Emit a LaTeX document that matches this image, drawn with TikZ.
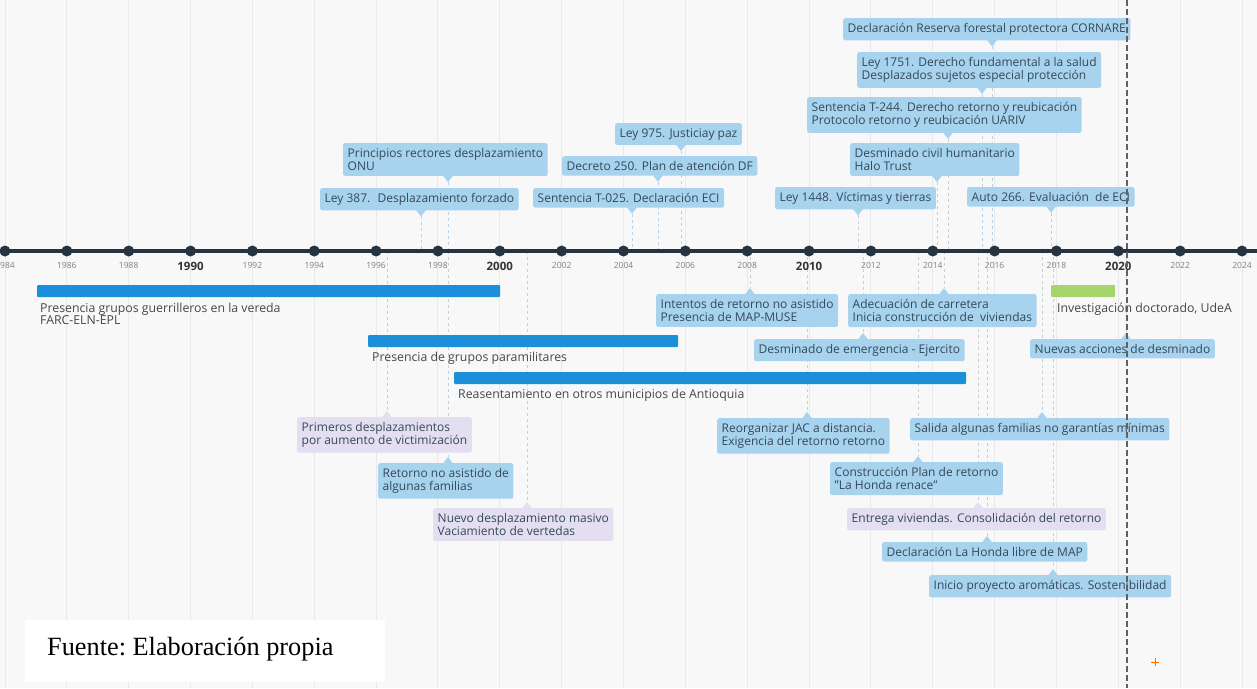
\documentclass[tikz,border=0pt]{standalone}
\usepackage{fontspec}
\setmainfont{Open Sans}
\newfontfamily\fuentefont{Liberation Serif}
\usetikzlibrary{calc}

\definecolor{paper}{HTML}{F8F8F8}
\definecolor{gridgray}{HTML}{E9E9E9}
\definecolor{axisnavy}{HTML}{263442}
\definecolor{evblue}{HTML}{A8D3EE}
\definecolor{evlilac}{HTML}{E4DEF1}
\definecolor{evtext}{HTML}{34495A}
\definecolor{barblue}{HTML}{1C8FDA}
\definecolor{bargreen}{HTML}{A6D56E}
\definecolor{stemblue}{HTML}{BCD1E3}

\pgfdeclarelayer{paperlayer}
\pgfdeclarelayer{stemlayer}
\pgfsetlayers{paperlayer,stemlayer,main}

\begin{document}
\begin{tikzpicture}[x=1pt, y=-1pt,
    ev/.style={rounded corners=2pt, inner xsep=4.5pt, inner ysep=5pt, align=left,
      anchor=north west, text=evtext, font=\fontsize{12}{13.5}\selectfont},
    stem/.style={stemblue, line width=0.8pt, dash pattern=on 3pt off 3pt},
    period/.style={barblue, rounded corners=1pt},
    periodtext/.style={anchor=north west, align=left, inner sep=0pt, text=black!72,
      font=\fontsize{12.3}{12}\selectfont},
    yearlbl/.style={text=black!50, font=\fontsize{8.5}{10}\selectfont},
    decadelbl/.style={text=black!80, font=\fontsize{11.5}{13}\selectfont\bfseries}]
  \useasboundingbox (0,0) rectangle (1257,688);
  \begin{pgfonlayer}{paperlayer}
    \fill[paper] (0,0) rectangle (1257,688);
    \foreach \yr in {1984,1986,...,2024}
      \draw[gridgray, line width=1pt] ({5+(\yr-1984)*30.925},0) -- ({5+(\yr-1984)*30.925},688);
  \end{pgfonlayer}

  \draw[axisnavy, line width=4pt] (-10,251) -- (1267,251);
  \foreach \yr in {1984,1986,...,2024}{
    \fill[axisnavy] ({5+(\yr-1984)*30.925},251) circle (5.5);
  }
  \foreach \yr in {1984,1986,1988,1992,1994,1996,1998,2002,2004,2006,2008,2012,2014,2016,2018,2022,2024}
    \node[yearlbl] (y\yr) at ({5+(\yr-1984)*30.925},265) {\yr};
  \foreach \yr in {1990,2000,2010,2020}
    \node[decadelbl] (y\yr) at ({5+(\yr-1984)*30.925},266) {\yr};

  % eventos sobre la linea
  \foreach \n/\lx/\ty/\px/\col/\txt in {
      cornare/843/18/992/evblue/{Declaración Reserva forestal protectora CORNARE},
      ley1751/857/52/982/evblue/{Ley 1751. Derecho fundamental a la salud\\Desplazados sujetos especial protección},
      t244/807/97/948/evblue/{Sentencia T-244. Derecho retorno y reubicación\\Protocolo retorno y reubicación UARIV},
      halo/850/143/937/evblue/{Desminado civil humanitario\\Halo Trust},
      ley1448/775/187/858/evblue/{Ley 1448. Víctimas y tierras},
      auto266/967/187/1051/evblue/{Auto 266. Evaluación~ de ECI},
      ley387/320/188/421/evblue/{Ley 387.~ Desplazamiento forzado},
      onu/343/143/448/evblue/{Principios rectores desplazamiento\\ONU},
      t025/533/188/632/evblue/{Sentencia T-025. Declaración ECI},
      decreto250/562/156/658/evblue/{Decreto 250. Plan de atención DF},
      ley975/615/123/681/evblue/{Ley 975. Justiciay paz}}{
    \node[ev, fill=\col] (\n) at (\lx,\ty) {\txt};
    \coordinate (\n-ax) at (\px,251);
    \begin{pgfonlayer}{stemlayer}
      \draw[stem] ($(\n.south -| \n-ax)+(0,6)$) -- (\n-ax);
    \end{pgfonlayer}
    \fill[\col] ($(\n.south -| \n-ax)+(-5,-0.5)$) -- ++(5,6.5) -- ++(5,-6.5) -- cycle;
  }

  % periodos
  \fill[period] (37,285) rectangle (500,297);
  \node[periodtext] (guerrilla) at (40,303) {Presencia grupos guerrilleros en la vereda\\FARC-ELN-EPL};
  \fill[period] (368,335) rectangle (678,347);
  \node[periodtext] (paras) at (372,352) {Presencia de grupos paramilitares};
  \fill[period] (454,372) rectangle (966,384);
  \node[periodtext] (reasent) at (458,389) {Reasentamiento en otros municipios de Antioquia};
  \fill[bargreen, rounded corners=1pt] (1051,285) rectangle (1115,297);
  \node[periodtext] (udea) at (1057,303) {Investigación doctorado, UdeA};

  % eventos bajo la linea
  \foreach \n/\lx/\ty/\px/\col/\txt in {
      intentos/656/294/750/evblue/{Intentos de retorno no asistido\\Presencia de MAP-MUSE},
      carretera/848/294/944/evblue/{Adecuación de carretera\\Inicia construcción de~ viviendas},
      emergencia/754/339/863/evblue/{Desminado de emergencia - Ejercito},
      nuevas/1030/339/1126/evblue/{Nuevas acciones de desminado},
      primeros/297/417/387/evlilac/{Primeros desplazamientos\\por aumento de victimización},
      retorno/378/463/448/evblue/{Retorno no asistido de\\algunas familias},
      masivo/433/508/527/evlilac/{Nuevo desplazamiento masivo\\Vaciamiento de vertedas},
      jac/717/418/807/evblue/{Reorganizar JAC a distancia.\\Exigencia del retorno retorno},
      salida/910/418/1042/evblue/{Salida algunas familias no garantías mínimas},
      plan/830/462/918/evblue/{Construcción Plan de retorno\\"La Honda renace"},
      entrega/847/508/978/evlilac/{Entrega viviendas. Consolidación del retorno},
      libre/882/542/987/evblue/{Declaración La Honda libre de MAP},
      aromaticas/929/575/1053/evblue/{Inicio proyecto aromáticas. Sostenibilidad}}{
    \node[ev, fill=\col] (\n) at (\lx,\ty) {\txt};
    \coordinate (\n-ax) at (\px,251);
    \begin{pgfonlayer}{stemlayer}
      \draw[stem] (\n-ax) -- ($(\n.north -| \n-ax)+(0,-6)$);
    \end{pgfonlayer}
    \fill[\col] ($(\n.north -| \n-ax)+(-5,0.5)$) -- ++(5,-6.5) -- ++(5,6.5) -- cycle;
  }

  \draw[black!62, line width=2.5pt, dash pattern=on 6pt off 3pt] (1127,0) -- (1127,688);
  \draw[orange!90!red, line width=0.9pt] (1151,662) -- (1159,662) (1155,658) -- (1155,666);

  \fill[white] (25,620) rectangle (385,682);
  \node[anchor=west, inner sep=0pt, font=\fuentefont\fontsize{26.3}{28}\selectfont\frenchspacing] (fuente) at (47,649) {Fuente: Elaboración propia};
\end{tikzpicture}
\end{document}
